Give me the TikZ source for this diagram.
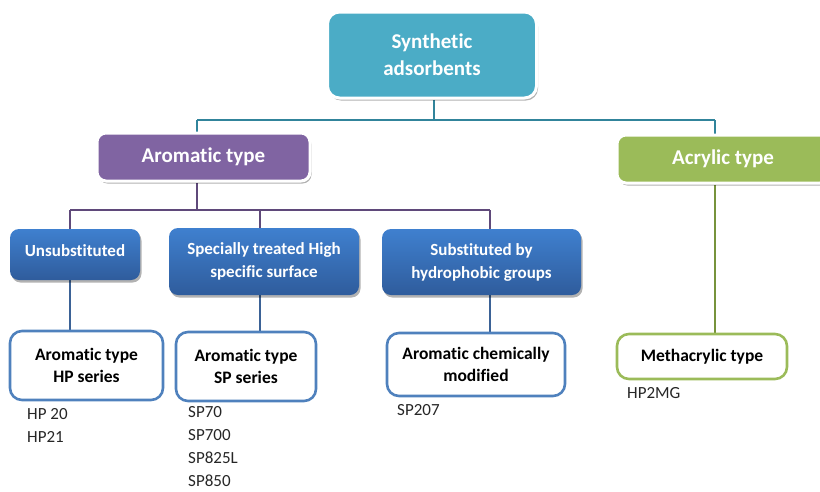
\documentclass[tikz,border=0pt]{standalone}
\usepackage{fontspec}
\setmainfont{Carlito}[Ligatures={NoCommon}]
\usetikzlibrary{shadows,backgrounds}
\definecolor{teal1}{HTML}{4BACC6}
\definecolor{tealline}{HTML}{31849B}
\definecolor{purp}{HTML}{8064A2}
\definecolor{purpline}{HTML}{5F497A}
\definecolor{grn}{HTML}{9BBB59}
\definecolor{grnline}{HTML}{77933C}
\definecolor{bluetop}{HTML}{3F80CF}
\definecolor{bluebot}{HTML}{2F5C9C}
\definecolor{blueline}{HTML}{3B6296}
\definecolor{leafblue}{HTML}{4F81BD}
\tikzset{
  shad/.style={drop shadow={shadow xshift=1.5pt,shadow yshift=-2.5pt,opacity=0.3,fill=black}},
  topbox/.style={shad,rounded corners=12pt,fill=teal1,draw=white,line width=3pt,text=white,
     font=\fontsize{21}{27}\selectfont\bfseries,align=center,inner sep=0pt},
  midbox/.style={shad,rounded corners=9pt,draw=white,line width=3pt,text=white,
     font=\fontsize{21}{24}\selectfont\bfseries,align=center,inner sep=0pt},
  bluebox/.style={shad,rounded corners=9pt,top color=bluetop,bottom color=bluebot,draw=none,text=white,
     font=\fontsize{17}{23}\selectfont\bfseries,align=center,inner sep=0pt},
  leafbox/.style={rounded corners=12pt,fill=white,draw=leafblue,line width=2.6pt,text=black,
     font=\fontsize{17.5}{22.5}\selectfont\bfseries,align=center,inner sep=0pt},
  lab/.style={anchor=west,inner sep=0pt,font=\fontsize{17}{18}\selectfont,text=black!85},
  conn/.style={line width=2.8pt},
}
\begin{document}
\begin{tikzpicture}[x=1pt,y=-1pt]
\useasboundingbox (0,0) rectangle (820,491);
\coordinate (t1) at (434,120);
\coordinate (tl) at (197,120);
\coordinate (tr) at (715,120);
\coordinate (p1) at (197,210);
\coordinate (pl) at (70,210);
\coordinate (pr) at (490,210);
\coordinate (pm) at (260,210);

\node[topbox,minimum width=209pt,minimum height=86pt] (syn) at (432,55) {Synthetic\\adsorbents};
\node[midbox,fill=purp,minimum width=213pt,minimum height=48pt] (aro) at (203.5,157) {Aromatic type};
\node[midbox,fill=grn,minimum width=212pt,minimum height=48pt] (acr) at (723,159) {Acrylic type};

\node[bluebox,minimum width=130pt,minimum height=51pt] (uns) at (75,254.5) {\raisebox{7pt}{Unsubstituted}};
\node[bluebox,minimum width=190pt,minimum height=67pt] (spe) at (264,261.5) {Specially treated High\\specific surface};
\node[bluebox,minimum width=199pt,minimum height=66pt] (sub) at (481.5,262) {Substituted by\\hydrophobic groups};

\node[leafbox,minimum width=153pt,minimum height=69pt] (hp) at (86.5,365.5) {Aromatic type\\HP series};
\node[leafbox,minimum width=140pt,minimum height=69pt] (sp) at (246,366.5) {Aromatic type\\SP series};
\node[leafbox,minimum width=178pt,minimum height=63pt] (acm) at (476,364.5) {Aromatic chemically\\modified};
\node[leafbox,draw=grn,minimum width=170pt,minimum height=45pt] (met) at (702,356.5) {Methacrylic type};

\begin{scope}[on background layer]
  \draw[conn,tealline] (syn.south -| t1) -- (t1);
  \draw[conn,tealline] (tl) -- (tr);
  \draw[conn,tealline] (tl) -- (aro.north -| tl);
  \draw[conn,tealline] (tr) -- (acr.north -| tr);
  \draw[conn,purpline] (aro.south -| p1) -- (p1);
  \draw[conn,purpline] (pl) -- (pr);
  \draw[conn,purpline] (pl) -- (uns.north -| pl);
  \draw[conn,purpline] (pm) -- (spe.north -| pm);
  \draw[conn,purpline] (pr) -- (sub.north -| pr);
  \draw[conn,blueline] (uns.south -| pl) -- (hp.north -| pl);
  \draw[conn,blueline] (spe.south -| pm) -- (sp.north -| pm);
  \draw[conn,blueline] (sub.south -| pr) -- (acm.north -| pr);
  \draw[conn,grnline] (acr.south -| tr) -- (met.north -| tr);
\end{scope}

\node[lab] (l1) at (27,414) {HP 20};
\node[lab] (l2) at (27,437) {HP21};
\node[lab] (l3) at (188,412) {SP70};
\node[lab] (l4) at (188,435) {SP700};
\node[lab] (l5) at (188,458) {SP825L};
\node[lab] (l6) at (188,480.5) {SP850};
\node[lab] (l7) at (397,410) {SP207};
\node[lab] (l8) at (627,393) {HP2MG};
\end{tikzpicture}
\end{document}
